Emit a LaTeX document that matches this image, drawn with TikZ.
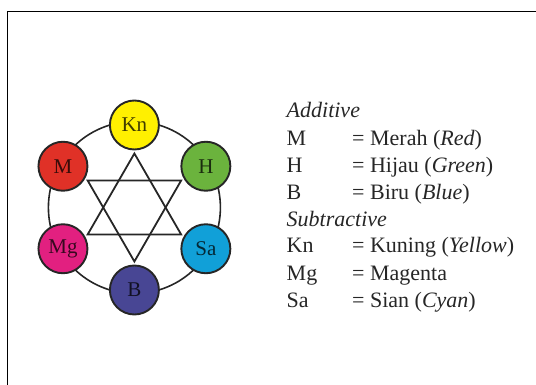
\documentclass[tikz,border=0pt]{standalone}
\usepackage{fontspec}
\setmainfont{Liberation Serif}
\definecolor{kuning}{RGB}{255,240,0}
\definecolor{merah}{RGB}{224,49,39}
\definecolor{hijau}{RGB}{107,179,61}
\definecolor{magenta}{RGB}{226,32,128}
\definecolor{sian}{RGB}{17,160,216}
\definecolor{biru}{RGB}{72,70,148}
\tikzset{
  warna/.style={circle,draw=black!85,line width=1.9pt,minimum size=49pt,inner sep=0pt,
    font=\fontsize{21}{21}\selectfont,text=black,text opacity=0.75},
  ket/.style={anchor=base west,inner sep=0pt,font=\fontsize{22}{22}\selectfont,text=black!85}
}
\begin{document}
\begin{tikzpicture}[x=1pt,y=1pt]
  \useasboundingbox (0,0) rectangle (536,385);
  \draw[line width=1.2pt] (7.2,0) -- (7.2,373.7) -- (536,373.7);
  \coordinate (O) at (134.4,177.5);
  \draw[line width=1.6pt,black!85] (O) circle [radius=86];
  % bintang
  \foreach \a [count=\i] in {90,210,330,270,30,150}
    \coordinate (t\i) at ([shift={(\a:54)}]O);
  \draw[line width=1.8pt,black!85] (t1) -- (t2) -- (t3) -- cycle;
  \draw[line width=1.8pt,black!85] (t4) -- (t5) -- (t6) -- cycle;
  \foreach \n/\a/\c in {Kn/90/kuning,H/30/hijau,Sa/-30/sian,B/-90/biru,Mg/-150/magenta,M/150/merah}
    \node[warna,fill=\c] (\n) at ([shift={(\a:82.5)}]O) {\n};
  % keterangan
  \node[ket] (add) at (286.5,267) {\textit{Additive}};
  \node[ket] (sub) at (286.5,158.7) {\textit{Subtractive}};
  \foreach \k/\v/\y in {M/Merah (\textit{Red})/239.7,H/Hijau (\textit{Green})/212.4,B/Biru (\textit{Blue})/185,
      Kn/Kuning (\textit{Yellow})/132,Mg/Magenta/104.7,Sa/Sian (\textit{Cyan})/77.3}{
    \node[ket] (k\k) at (286.5,\y) {\k};
    \node[ket] (v\k) at (352,\y) {= \v};
  }
\end{tikzpicture}
\end{document}
